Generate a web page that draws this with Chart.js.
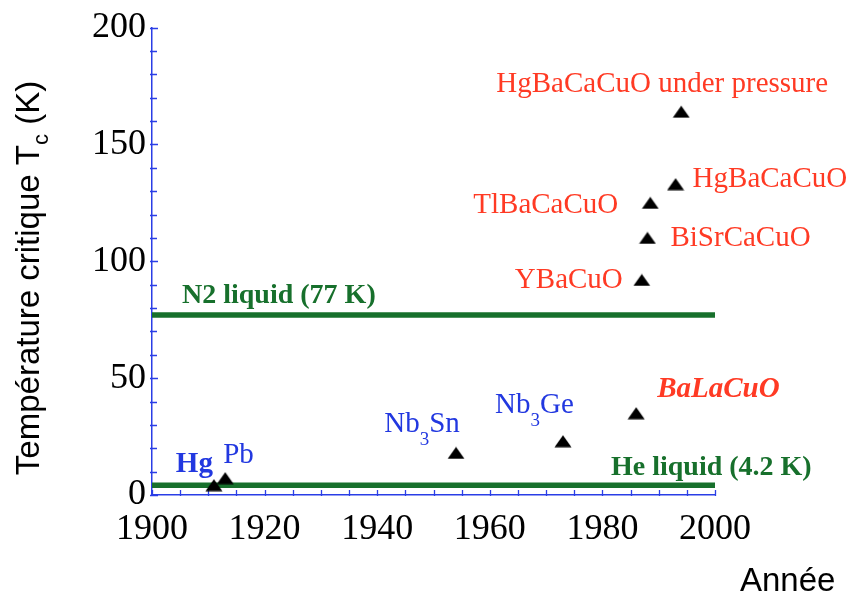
<!DOCTYPE html>
<html>
<head>
<meta charset="utf-8">
<script src="https://cdn.jsdelivr.net/npm/chart.js@4.4.1/dist/chart.umd.min.js"></script>
<style>
  html, body { margin: 0; padding: 0; background: #fff; }
  #wrap { width: 853px; height: 599px; }
</style>
</head>
<body>
<div id="wrap"><canvas id="c"></canvas></div>
<script>
// Data
const years = [1911, 1913, 1954, 1973, 1986, 1987, 1988, 1988.5, 1993, 1994];
const tcValues = [4.2, 7.2, 18, 23, 35, 92, 110, 125, 133, 164];
const materials = ['Hg', 'Pb', 'Nb3Sn', 'Nb3Ge', 'BaLaCuO', 'YBaCuO', 'BiSrCaCuO', 'TlBaCaCuO', 'HgBaCaCuO', 'HgBaCaCuO under pressure'];
const liquidTemps = [77, 4.2];
const liquidNames = ['N2 liquid (77 K)', 'He liquid (4.2 K)'];
const yearRange = [1900, 2000];
const tcRange = [0, 200];

const serif = "'Liberation Serif', 'Times New Roman', serif";
const sans = "'Liberation Sans', Arial, sans-serif";
const RED = '#ff3a24', BLUE = '#2238e0', GREEN = '#17702c', AXIS = '#2a3ee6';

// label look per material (offsets in px from the marker)
const f = (s, w) => `${w || ''} ${s}px ${serif}`;
const labelStyle = {
  'Hg': { color: BLUE, align: 'right', dx: -1, dy: -13, runs: [['Hg', f(29, 'bold'), 0]] },
  'Pb': { color: BLUE, align: 'left', dx: -2, dy: -15, runs: [['Pb', f(29), 0]] },
  'Nb3Sn': { color: BLUE, align: 'center', dx: -34, dy: -21, runs: [['Nb', f(29), 0], ['3', f(19), 13], ['Sn', f(29), 0]] },
  'Nb3Ge': { color: BLUE, align: 'left', dx: -68, dy: -28, runs: [['Nb', f(29), 0], ['3', f(19), 13], ['Ge', f(29), 0]] },
  'BaLaCuO': { color: RED, align: 'left', dx: 21, dy: -16, runs: [['BaLaCuO', f(29, 'italic bold'), 0]] },
  'YBaCuO': { color: RED, align: 'right', dx: -19, dy: 8 },
  'BiSrCaCuO': { color: RED, align: 'left', dx: 23, dy: 8 },
  'TlBaCaCuO': { color: RED, align: 'right', dx: -32, dy: 10 },
  'HgBaCaCuO': { color: RED, align: 'left', dx: 17, dy: 3 },
  'HgBaCaCuO under pressure': { color: RED, align: 'center', dx: -19, dy: -20 }
};

// flat black triangle marker like the original
const tri = document.createElement('canvas');
tri.width = 18; tri.height = 13;
(() => {
  const c = tri.getContext('2d');
  c.fillStyle = '#000';
  c.beginPath();
  c.moveTo(9, 0.5); c.lineTo(17.5, 12.5); c.lineTo(0.5, 12.5);
  c.closePath();
  c.fill();
})();

function drawRuns(ctx, runs, x, y, align, color) {
  ctx.save();
  ctx.fillStyle = color;
  ctx.textBaseline = 'alphabetic';
  ctx.textAlign = 'left';
  let total = 0;
  runs.forEach(r => { ctx.font = r[1]; total += ctx.measureText(r[0]).width; });
  let cx = align === 'right' ? x - total : align === 'center' ? x - total / 2 : x;
  runs.forEach(r => {
    ctx.font = r[1];
    ctx.fillText(r[0], cx, y + r[2]);
    cx += ctx.measureText(r[0]).width;
  });
  ctx.restore();
}

const decorations = {
  id: 'decorations',
  beforeDatasetsDraw(chart) {
    const { ctx, chartArea: a, scales: { x, y } } = chart;
    ctx.save();
    ctx.strokeStyle = AXIS;
    ctx.lineWidth = 1.3;
    ctx.beginPath();
    for (let v = tcRange[0]; v <= tcRange[1]; v += 10) {
      const py = Math.round(y.getPixelForValue(v)) + 0.5;
      ctx.moveTo(a.left - 2, py);
      ctx.lineTo(a.left + (v % 50 === 0 ? 6 : 5), py);
    }
    for (let v = yearRange[0]; v <= yearRange[1]; v += 5) {
      const px = Math.round(x.getPixelForValue(v)) + 0.5;
      ctx.moveTo(px, a.bottom + 1);
      ctx.lineTo(px, a.bottom - 5);
    }
    ctx.stroke();
    ctx.restore();
  },
  afterDatasetsDraw(chart) {
    const { ctx, chartArea: a } = chart;
    const meta = chart.getDatasetMeta(0);
    meta.data.forEach((pt, i) => {
      const name = materials[i];
      const s = labelStyle[name];
      const runs = s.runs || [[name, f(29), 0]];
      drawRuns(ctx, runs, pt.x + s.dx, pt.y + s.dy, s.align, s.color);
    });
    // liquid labels
    const n2 = chart.getDatasetMeta(1).data[0];
    drawRuns(ctx, [[liquidNames[0], f(28, 'bold'), 0]], a.left + 30, n2.y - 12, 'left', GREEN);
    const he = chart.getDatasetMeta(2).data[1];
    drawRuns(ctx, [[liquidNames[1], f(28, 'bold'), 0]], he.x - 104, he.y - 10, 'left', GREEN);

    // axis titles
    ctx.save();
    ctx.translate(39, 278);
    ctx.rotate(-Math.PI / 2);
    const tRuns = [['Température critique T', `33px ${sans}`, 0], ['c', `22px ${sans}`, 9], [' (K)', `33px ${sans}`, 0]];
    drawRuns(ctx, tRuns, 0, 0, 'center', '#000');
    ctx.restore();
    drawRuns(ctx, [['Année', `33px ${sans}`, 0]], 740, 591, 'left', '#000');
  }
};

const pts = years.map((yr, i) => ({ x: yr, y: tcValues[i] }));
const liquidSets = liquidTemps.map((t, i) => ({
  type: 'line',
  label: liquidNames[i],
  data: yearRange.map(yr => ({ x: yr, y: t })),
  borderColor: GREEN,
  borderWidth: 5.5,
  pointRadius: 0,
  fill: false
}));

new Chart(document.getElementById('c'), {
  type: 'scatter',
  data: {
    datasets: [{
      label: 'Tc',
      data: pts,
      pointStyle: tri,
      pointRadius: 9,
      backgroundColor: '#000',
      borderColor: '#000'
    }, ...liquidSets]
  },
  options: {
    responsive: true,
    maintainAspectRatio: false,
    animation: false,
    layout: { padding: { left: 0, right: 138, top: 25, bottom: 0 } },
    plugins: { legend: { display: false }, tooltip: { enabled: false } },
    scales: {
      x: {
        type: 'linear',
        min: yearRange[0], max: yearRange[1],
        grid: { display: false, drawTicks: false },
        border: { color: AXIS, width: 1.5 },
        ticks: { stepSize: 20, padding: 13, color: '#000', font: { family: serif, size: 36 }, callback: v => String(v) },
        afterFit: s => { s.height = 104; }
      },
      y: {
        min: tcRange[0], max: tcRange[1],
        grid: { display: false, drawTicks: false },
        border: { color: AXIS, width: 1.5 },
        ticks: { stepSize: 50, padding: 6, color: '#000', font: { family: serif, size: 36 } },
        afterFit: s => { s.width = 152; }
      }
    }
  },
  plugins: [decorations]
});
</script>
</body>
</html>
